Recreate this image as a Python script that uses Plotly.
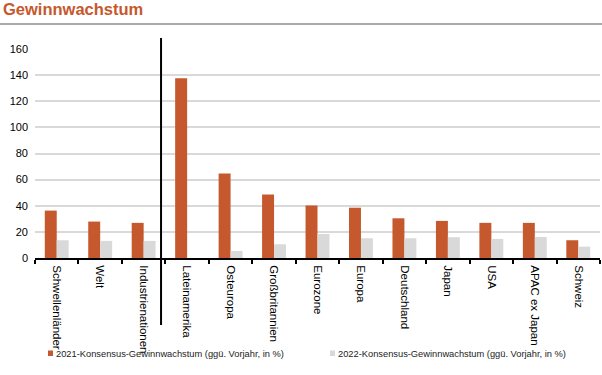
import plotly.graph_objects as go

categories = ["Schwellenländer", "Welt", "Industrienationen", "Lateinamerika", "Osteuropa",
              "Großbritannien", "Eurozone", "Europa", "Deutschland", "Japan", "USA",
              "APAC ex Japan", "Schweiz"]
growth_2021 = [36.3, 27.9, 26.9, 137.6, 64.7, 48.6, 40.2, 38.5, 30.4, 28.4, 26.9, 26.9, 13.6]
growth_2022 = [13.6, 13.1, 13.1, None, 5.4, 10.5, 18.4, 15.1, 15.1, 15.9, 14.6, 16.1, 8.7]
y_ticks = [0, 20, 40, 60, 80, 100, 120, 140, 160]
series_names = ["2021-Konsensus-Gewinnwachstum (ggü. Vorjahr, in %)",
                "2022-Konsensus-Gewinnwachstum (ggü. Vorjahr, in %)"]
title_text = "Gewinnwachstum"

ORANGE = "#C5582D"
GREY = "#D9D9D9"
FONT = "Liberation Sans, Arial, sans-serif"

fig = go.Figure()
fig.add_trace(go.Bar(x=categories, y=growth_2021, name=series_names[0],
                     marker=dict(color=ORANGE, line=dict(width=0))))
fig.add_trace(go.Bar(x=categories, y=growth_2022, name=series_names[1],
                     marker=dict(color=GREY, line=dict(width=0))))

L, R, T, B = 35, 2, 49, 117
W, H = 602, 375
pw = W - L - R
ph = H - T - B


def px_x(p):
    return (p - L) / pw


def px_y(p):
    return (H - B - p) / ph


shapes = [
    dict(type="line", xref="x", yref="paper", x0=2.4, x1=2.4, y0=px_y(325), y1=px_y(38),
         line=dict(color="#000000", width=2)),
    dict(type="line", xref="paper", yref="paper", x0=px_x(0), x1=px_x(602), y0=px_y(24), y1=px_y(24),
         line=dict(color="#8C8C8C", width=1.5)),
]
annotations = [
    dict(text="<b>" + title_text + "</b>", xref="paper", yref="paper", x=px_x(1), y=px_y(9),
         xanchor="left", yanchor="middle", showarrow=False,
         font=dict(size=16.5, color=ORANGE, family=FONT)),
]

# legend (small square + text), as in the original
legend_items = [(48, ORANGE, series_names[0]), (330, GREY, series_names[1])]
for lx, col, name in legend_items:
    shapes.append(dict(type="rect", xref="paper", yref="paper",
                       x0=px_x(lx), x1=px_x(lx + 5), y0=px_y(356), y1=px_y(350.5),
                       fillcolor=col, line=dict(width=0)))
    annotations.append(dict(text=name, xref="paper", yref="paper", x=px_x(lx + 5.5), y=px_y(353.5),
                            xanchor="left", yanchor="middle", showarrow=False,
                            font=dict(size=9.3, color="#222222", family=FONT)))

fig.update_layout(
    width=W, height=H,
    margin=dict(l=L, r=R, t=T, b=B, autoexpand=False),
    paper_bgcolor="white", plot_bgcolor="white",
    barmode="group", bargap=0.45, bargroupgap=0,
    font=dict(family=FONT, size=11, color="#000000"),
    showlegend=False,
    xaxis=dict(type="category", showgrid=False, showline=True, linecolor="#000000", linewidth=2,
               ticks="outside", tickson="boundaries", ticklen=4, tickwidth=2, tickcolor="#000000",
               tickangle=90, tickfont=dict(size=11.5), zeroline=False, ticklabelstandoff=3,
               automargin=False),
    yaxis=dict(range=[0, 160], tickvals=y_ticks, showgrid=True, gridcolor=GREY, gridwidth=2,
               zeroline=False, showline=False, ticks="", tickfont=dict(size=11),
               ticklabelstandoff=6, automargin=False),
    shapes=shapes,
    annotations=annotations,
)

fig.write_html("out.html", config={"displayModeBar": False},
               post_script="document.body.style.margin='0px';")
